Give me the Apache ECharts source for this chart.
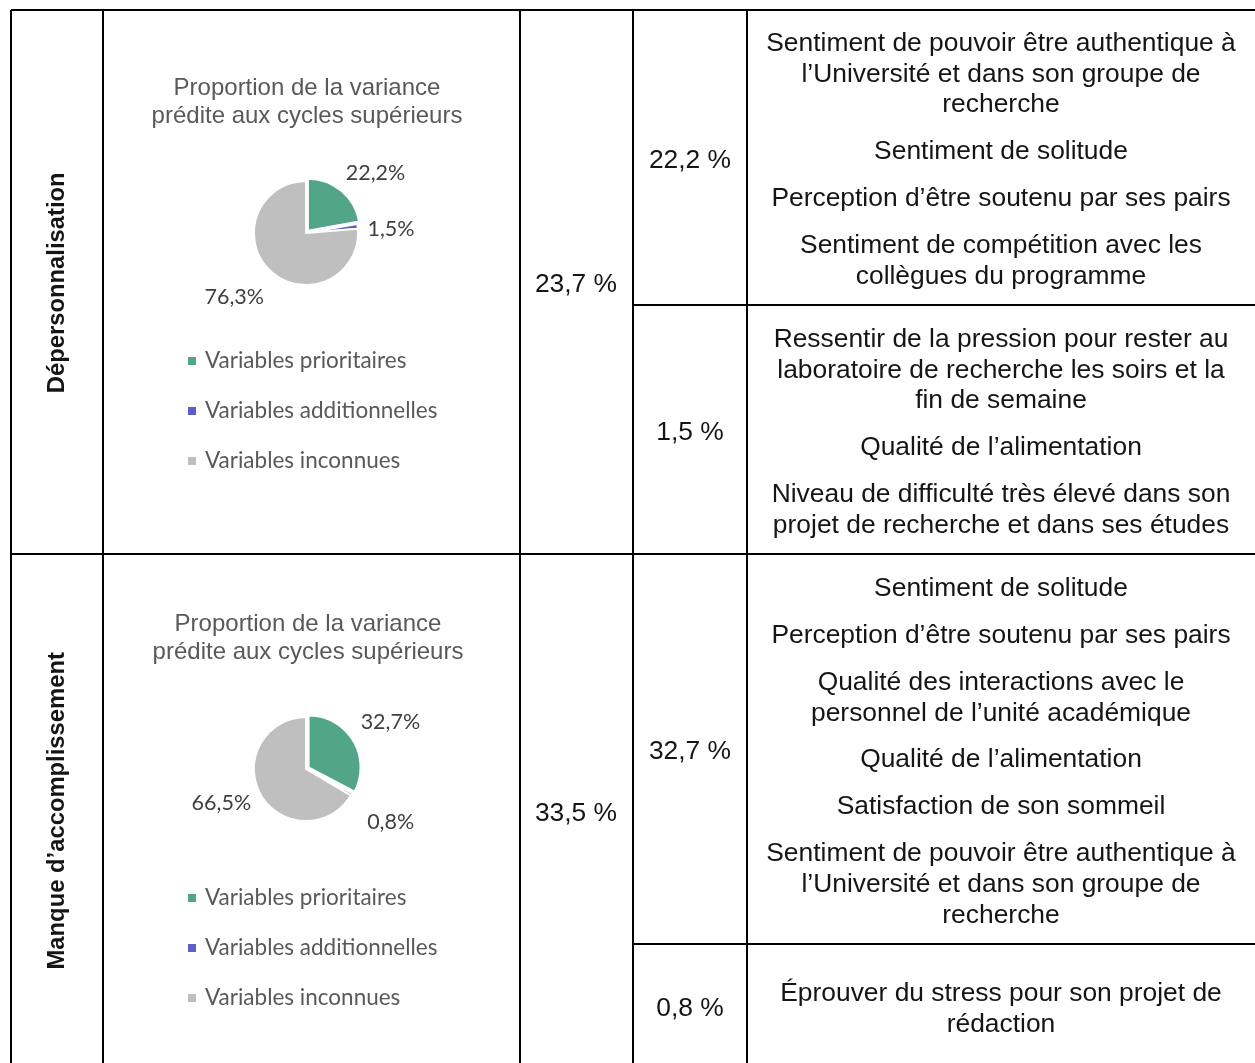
<!DOCTYPE html>
<html><head><meta charset="utf-8">
<script src="https://cdn.jsdelivr.net/npm/echarts@6/dist/echarts.min.js"></script>
<style>html,body{margin:0;padding:0;background:#fff}#c{width:1255px;height:1063px}</style>
</head><body><div id="c"></div>
<script>
const categories = ['Variables prioritaires', 'Variables additionnelles', 'Variables inconnues'];
const colors = ['#52a586', '#5b5fc7', '#bfbfbf'];
const pieDeperso = [22.2, 1.5, 76.3];
const pieAccomp = [32.7, 0.8, 66.5];
const chartTitle = 'Proportion de la variance\nprédite aux cycles supérieurs';
const rowLabels = ['Dépersonnalisation', 'Manque d’accomplissement'];
const varPrio1 = ['Sentiment de pouvoir être authentique à\nl’Université et dans son groupe de\nrecherche', 'Sentiment de solitude', 'Perception d’être soutenu par ses pairs', 'Sentiment de compétition avec les\ncollègues du programme'];
const varAdd1 = ['Ressentir de la pression pour rester au\nlaboratoire de recherche les soirs et la\nfin de semaine', 'Qualité de l’alimentation', 'Niveau de difficulté très élevé dans son\nprojet de recherche et dans ses études'];
const varPrio2 = ['Sentiment de solitude', 'Perception d’être soutenu par ses pairs', 'Qualité des interactions avec le\npersonnel de l’unité académique', 'Qualité de l’alimentation', 'Satisfaction de son sommeil', 'Sentiment de pouvoir être authentique à\nl’Université et dans son groupe de\nrecherche'];
const varAdd2 = ['Éprouver du stress pour son projet de\nrédaction'];

// label placement tweaks (style only)
const labelOffsets1 = [[-7, -10], [-5, 4], [5, 18]];
const labelOffsets2 = [[-6, -13], [2, 23], [4, 3]];

const fmt = v => v.toFixed(1).replace('.', ',');
const TXT = '#151515';
const tableFont = '26.4px "Liberation Sans", Arial, sans-serif';
const DY = 1.8;

function pieData(vals, offs) {
  return vals.map((v, i) => ({
    name: categories[i], value: v, itemStyle: {color: colors[i]}, selected: i === 0,
    label: {offset: offs[i]}, select: {label: {offset: offs[i]}}
  }));
}

const g = [];
function line(x1, y1, x2, y2) {
  g.push({type: 'line', shape: {x1, y1, x2, y2}, style: {stroke: '#000', lineWidth: 2}, silent: true});
}
function text(t, x, y, font, extra) {
  g.push(Object.assign({type: 'text', x, y: y + DY, style: {text: t, font, fill: TXT, textAlign: 'center', textVerticalAlign: 'middle'}, silent: true}, extra || {}));
}
line(11, 10, 1255, 10);
line(11, 554, 1255, 554);
line(633, 305, 1255, 305);
line(633, 944, 1255, 944);
[11, 103, 520, 633, 747].forEach(x => line(x, 10, x, 1063));

function block(paras, cx, yFirst) {
  let y = yFirst;
  paras.forEach(p => {
    p.split('\n').forEach(ln => {
      text(ln, cx, y, tableFont);
      y += 30.7;
    });
    y += 16.2;
  });
}
block(varPrio1, 1001, 42);
block(varAdd1, 1001, 338);
block(varPrio2, 1001, 587);
block(varAdd2, 1001, 992);

text(fmt(pieDeperso[0]) + ' %', 690, 159, tableFont);
text(fmt(pieDeperso[1]) + ' %', 690, 431, tableFont);
text(fmt(pieAccomp[0]) + ' %', 690, 750, tableFont);
text(fmt(pieAccomp[1]) + ' %', 690, 1007, tableFont);
text(fmt(pieDeperso[0] + pieDeperso[1]) + ' %', 576, 283, tableFont);
text(fmt(pieAccomp[0] + pieAccomp[1]) + ' %', 576, 812, tableFont);

const rowFont = 'bold 23.8px "Liberation Sans", Arial, sans-serif';
text(rowLabels[0], 57, 281, rowFont, {rotation: Math.PI / 2});
text(rowLabels[1], 57, 809, rowFont, {rotation: Math.PI / 2});

function pieSeries(vals, center, offs) {
  return {
    type: 'pie', center, radius: 52, startAngle: 90, clockwise: true,
    avoidLabelOverlap: false, selectedMode: 'single', selectedOffset: 3,
    itemStyle: {borderColor: '#fff', borderWidth: 2},
    label: {show: true, position: 'outside', formatter: p => fmt(p.value) + '%', fontFamily: 'Lato', fontSize: 21.5, color: '#404040'},
    labelLine: {show: false, length: 10, length2: 0},
    emphasis: {disabled: true},
    data: pieData(vals, offs)
  };
}
function legend(top) {
  return {
    orient: 'vertical', left: 186, top, padding: 0, icon: 'rect', itemWidth: 10, itemHeight: 10, itemGap: 27,
    selectedMode: false, data: categories,
    textStyle: {fontFamily: 'Lato', fontSize: 22.5, color: '#595959', padding: [0, 0, 0, 3]}
  };
}
const titleStyle = {fontFamily: '"Liberation Sans", Arial', fontSize: 24, lineHeight: 28, fontWeight: 'normal', color: '#595959'};
const chart = echarts.init(document.getElementById('c'), null, {renderer: 'canvas'});
chart.setOption({
  animation: false,
  title: [
    {text: chartTitle, left: 302, top: 69, padding: 5, textAlign: 'center', textStyle: titleStyle},
    {text: chartTitle, left: 303, top: 605, padding: 5, textAlign: 'center', textStyle: titleStyle}
  ],
  legend: [legend(349.5), legend(886.5)],
  series: [pieSeries(pieDeperso, [306, 233], labelOffsets1), pieSeries(pieAccomp, [306, 769], labelOffsets2)],
  graphic: g
});
</script></body></html>
